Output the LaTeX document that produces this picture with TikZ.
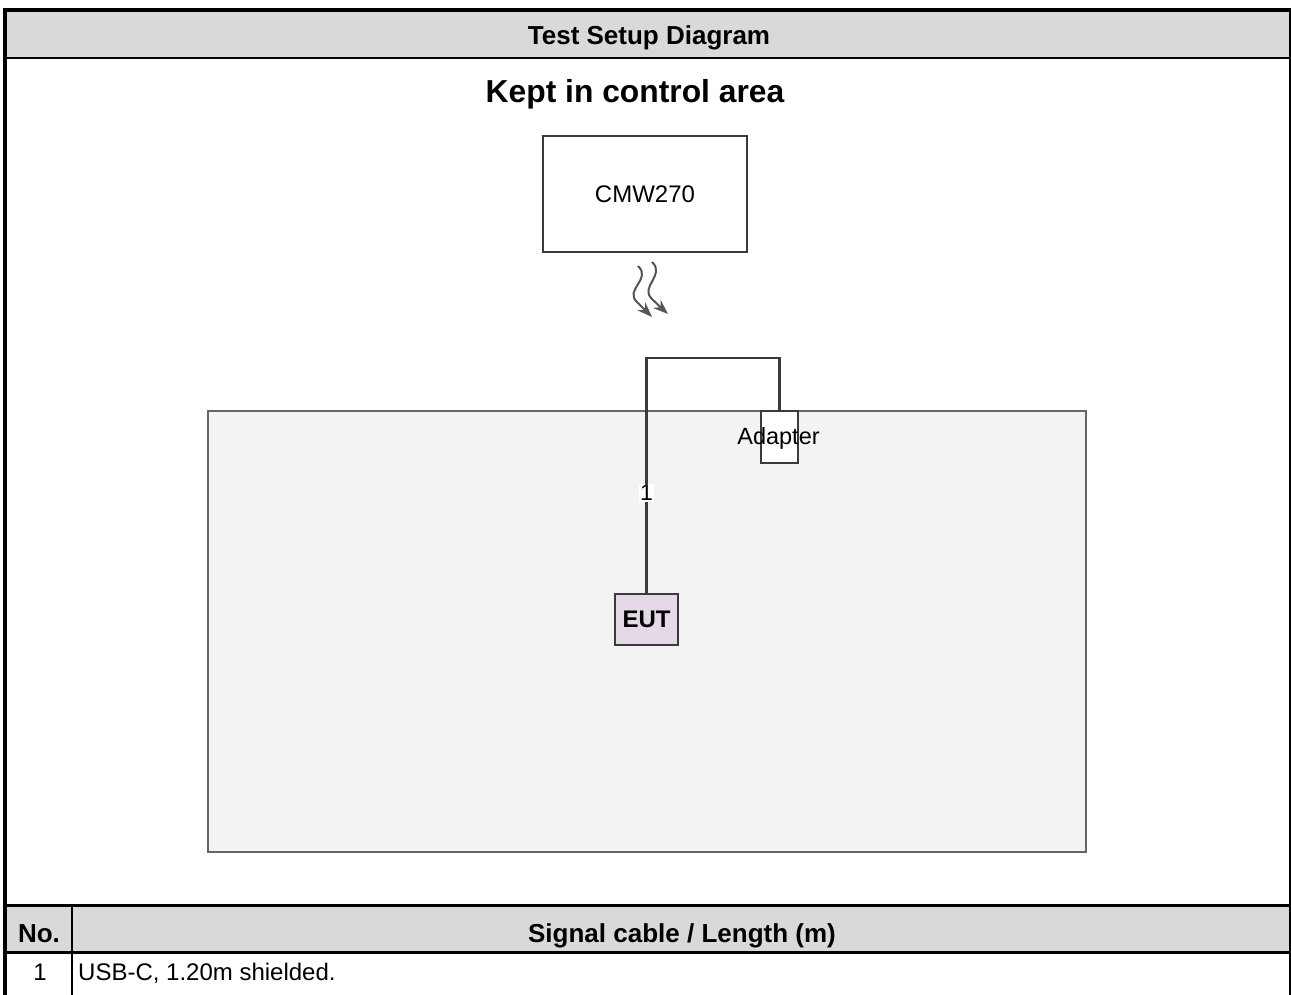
\documentclass[tikz,border=0pt]{standalone}
\usepackage{fontspec}
\setmainfont{Liberation Sans}
\usetikzlibrary{arrows.meta}
\definecolor{hdrgray}{HTML}{D9D9D9}
\definecolor{areagray}{HTML}{F3F3F3}
\definecolor{eutfill}{HTML}{E5D9E8}
\definecolor{linegray}{HTML}{3A3A3A}
\definecolor{boxline}{HTML}{666666}
\definecolor{wavegray}{HTML}{555555}
\tikzset{
  hdrtext/.style={font=\fontsize{26}{30}\selectfont\bfseries, inner sep=0pt},
  celltext/.style={font=\fontsize{24}{28}\selectfont, inner sep=0pt},
  devbox/.style={draw=linegray, line width=2.2pt, inner sep=0pt},
  cable/.style={draw=linegray, line width=2.4pt},
  wave/.style={draw=wavegray, line width=2pt, -{Stealth[length=15pt,width=11pt]}},
  frameline/.style={line width=3.5pt, black},
}
\begin{document}
\begin{tikzpicture}[x=1pt,y=-1pt]
\useasboundingbox (0,0) rectangle (1291,995);
% header row
\fill[hdrgray] (6,10) rectangle (1290,58);
\node[hdrtext, anchor=base] (title) at (649,45) {Test Setup Diagram};
% table header row
\fill[hdrgray] (6,905) rectangle (1290,952);
% frame lines
\draw[frameline] (3,10) -- (1291,10);
\draw[line width=2.5pt] (5,58) -- (1290,58);
\draw[frameline] (5,8.5) -- (5,995);
\draw[line width=1.3pt] (1290,10) -- (1290,995);
\draw[line width=3pt] (5,905) -- (1290,905);
\draw[line width=3pt] (5,952) -- (1290,952);
\draw[line width=1.5pt] (72,905) -- (72,995);
% area label
\node[font=\fontsize{31.8}{36}\selectfont\bfseries, inner sep=0pt, anchor=base] (kept) at (635,103) {Kept in control area};
% CMW270
\node[devbox, minimum width=204pt, minimum height=116pt, font=\fontsize{24}{28}\selectfont] (cmw) at (645,194) {CMW270};
% waves
\coordinate (w1s) at (638,266);
\coordinate (w1e) at (652,317);
\coordinate (w2s) at (652,262);
\coordinate (w2e) at (668,314);
\draw[wave] (w1s) .. controls (652,279) and (624,290) .. (637,302) .. controls (642,307) .. (w1e);
\draw[wave] (w2s) .. controls (666,275) and (639,287) .. (652,299) .. controls (657,304) .. (w2e);
% test area
\node[draw=boxline, fill=areagray, line width=2.5pt, minimum width=878pt, minimum height=441pt, inner sep=0pt] (area) at (647,631.5) {};
% EUT and adapter
\node[devbox, fill=eutfill, minimum width=63pt, minimum height=51pt, font=\fontsize{24}{28}\selectfont\bfseries] (eut) at (646.5,619.5) {EUT};
\coordinate (bendL) at (646.5,358);
\coordinate (bendR) at (779.5,358);
\node[devbox, fill=white, minimum width=37pt, minimum height=52pt] (adapter) at (779.5,437) {};
\draw[cable] (eut.north) -- (bendL) -- (bendR) -- (adapter.north);
\node[font=\fontsize{23.5}{27}\selectfont, inner sep=0pt] (adlabel) at (778.5,438) {Adapter};
\node[font=\fontsize{23}{27}\selectfont, fill=white, inner sep=1.5pt] (lab1) at (646.5,493) {1};
% table text
\node[hdrtext, anchor=base] (no) at (39,942) {No.};
\node[hdrtext, anchor=base] (sig) at (682,942) {Signal cable / Length (m)};
\node[celltext, anchor=base] (r1no) at (40,980) {1};
\node[celltext, anchor=base west] (r1txt) at (78,980) {USB-C, 1.20m shielded.};
\end{tikzpicture}
\end{document}
